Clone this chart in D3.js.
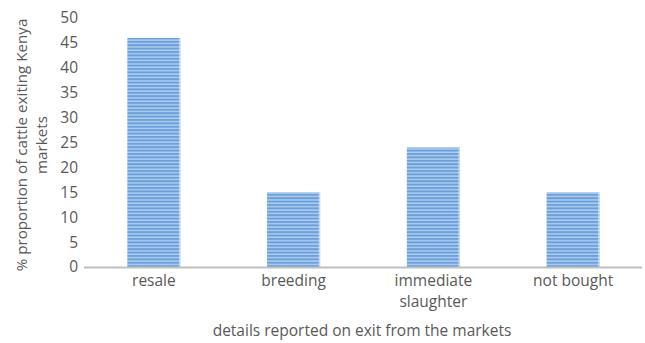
<!DOCTYPE html>
<meta charset="utf-8">
<style>
    body { margin: 0; background: #fff; }
    text { font-family: "Open Sans", sans-serif; fill: #595959; }
</style>
<body>
<script src="https://d3js.org/d3.v7.min.js"></script>
<script>
    // data
    const categories = ["resale", "breeding", "immediate slaughter", "not bought"];
    const values = [46, 15, 24, 15];
    const yTicks = [0, 5, 10, 15, 20, 25, 30, 35, 40, 45, 50];
    const yTitle = ["% proportion of cattle exiting Kenya", "markets"];
    const xTitle = "details reported on exit from the markets";

    const W = 645, H = 343;
    const margin = {top: 18, right: 2, bottom: 76, left: 84};
    const fs = "15.5px";

    const svg = d3.select("body").append("svg")
        .attr("width", W)
        .attr("height", H);

    // striped fill like the excel pattern
    const pat = svg.append("defs").append("pattern")
        .attr("id", "stripes")
        .attr("patternUnits", "userSpaceOnUse")
        .attr("width", 10)
        .attr("height", 3.4);
    pat.append("rect").attr("width", 10).attr("height", 3.4).attr("fill", "#b3cff0");
    pat.append("rect").attr("width", 10).attr("height", 2).attr("fill", "#6a9fda");

    let x = d3.scaleBand()
        .domain(categories)
        .range([margin.left, W - margin.right])
        .padding(0);

    let y = d3.scaleLinear()
        .domain([0, 50])
        .range([H - margin.bottom, margin.top]);

    const barW = x.bandwidth() * 0.38;

    svg.selectAll(".bar")
        .data(values)
        .enter().append("rect")
        .attr("class", "bar")
        .attr("x", (d, i) => x(categories[i]) + (x.bandwidth() - barW) / 2)
        .attr("y", d => y(d))
        .attr("width", barW)
        .attr("height", d => y(0) - y(d))
        .attr("fill", "url(#stripes)");

    // light right edge on the bars
    svg.selectAll(".edge")
        .data(values)
        .enter().append("rect")
        .attr("x", (d, i) => x(categories[i]) + (x.bandwidth() + barW) / 2 - 1.5)
        .attr("y", d => y(d))
        .attr("width", 1.5)
        .attr("height", d => y(0) - y(d))
        .attr("fill", "#dce9f8")
        .attr("opacity", 0.7);

    // y axis labels (no line, no ticks)
    svg.append("g")
        .selectAll("text")
        .data(yTicks)
        .enter().append("text")
        .attr("x", 78)
        .attr("y", d => y(d))
        .attr("dy", "0.35em")
        .attr("text-anchor", "end")
        .style("font-size", fs)
        .text(d => d);

    // x axis line
    svg.append("line")
        .attr("x1", margin.left)
        .attr("x2", W - 3)
        .attr("y1", y(0) + 0.5)
        .attr("y2", y(0) + 0.5)
        .attr("stroke", "#bfbfbf")
        .attr("stroke-width", 2);

    // category labels, wrapped
    const cat = svg.append("g")
        .selectAll("text")
        .data(categories)
        .enter().append("text")
        .attr("x", d => x(d) + x.bandwidth() / 2)
        .attr("y", y(0) + 19)
        .attr("text-anchor", "middle")
        .style("font-size", fs);
    cat.each(function(d) {
        const words = d === "immediate slaughter" ? ["immediate", "slaughter"] : [d];
        d3.select(this).selectAll("tspan")
            .data(words)
            .enter().append("tspan")
            .attr("x", x(d) + x.bandwidth() / 2)
            .attr("dy", (w, i) => i === 0 ? 0 : 21)
            .text(w => w);
    });

    // axis titles
    svg.append("text")
        .attr("x", 362)
        .attr("y", 336)
        .attr("text-anchor", "middle")
        .style("font-size", fs)
        .text(xTitle);

    const yt = svg.append("text")
        .attr("transform", "translate(27,145) rotate(-90)")
        .attr("text-anchor", "middle")
        .style("font-size", "15.2px");
    yt.selectAll("tspan")
        .data(yTitle)
        .enter().append("tspan")
        .attr("x", 0)
        .attr("dy", (d, i) => i === 0 ? 0 : 20)
        .text(d => d);
</script>
</body>
